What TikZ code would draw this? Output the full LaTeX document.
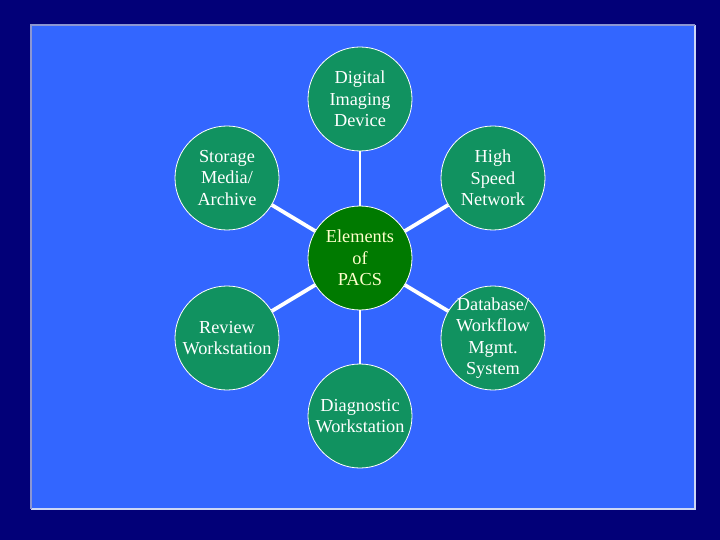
\documentclass[tikz,border=0pt]{standalone}
\usepackage{fontspec}
\setmainfont{Liberation Serif}
\definecolor{navy}{RGB}{2,0,120}
\definecolor{slide}{RGB}{51,102,255}
\definecolor{leaf}{RGB}{17,146,96}
\definecolor{hub}{RGB}{0,122,0}
\definecolor{hubtext}{RGB}{255,255,204}
\definecolor{edgeA}{RGB}{140,150,210}
\definecolor{edgeB}{RGB}{205,215,245}
\tikzset{
  leafnode/.style={circle, draw=white, line width=0.8pt, fill=leaf, minimum size=104pt, inner sep=0pt,
    align=center, text=white, font=\fontsize{18.3}{21.5}\selectfont},
  hubnode/.style={leafnode, fill=hub, text=hubtext},
  thinspoke/.style={draw=white, line width=1.6pt},
  thickspoke/.style={draw=white, line width=3.8pt}
}
\begin{document}
\begin{tikzpicture}[x=1pt,y=-1pt]
\fill[navy] (0,0) rectangle (720,540);
\useasboundingbox (0,0) rectangle (720,540);
\fill[slide] (31,25) rectangle (695,509);
\draw[edgeB, line width=1.2pt] (695,25) -- (695,509) -- (31,509);
\draw[edgeA, line width=1.2pt] (31,509) -- (31,25) -- (695,25);
\node[hubnode] (hub) at (360,258) {Elements\\of\\PACS};
\node[leafnode] (dig) at (360,99) {Digital\\Imaging\\Device};
\node[leafnode] (sto) at (227,178) {Storage\\Media/\\Archive};
\node[leafnode] (net) at (493,178) {High\\Speed\\Network};
\node[leafnode] (rev) at (227,338) {Review\\Workstation};
\node[leafnode, inner sep=-20pt] (dbs) at (493,338) {Database/\\Workflow\\Mgmt.\\System};
\node[leafnode] (dia) at (360,416) {Diagnostic\\Workstation};
\path[thinspoke] (hub) -- (dig);
\path[thinspoke] (hub) -- (dia);
\path[thickspoke] (hub) -- (sto);
\path[thickspoke] (hub) -- (net);
\path[thickspoke] (hub) -- (rev);
\path[thickspoke] (hub) -- (dbs);
\end{tikzpicture}
\end{document}
